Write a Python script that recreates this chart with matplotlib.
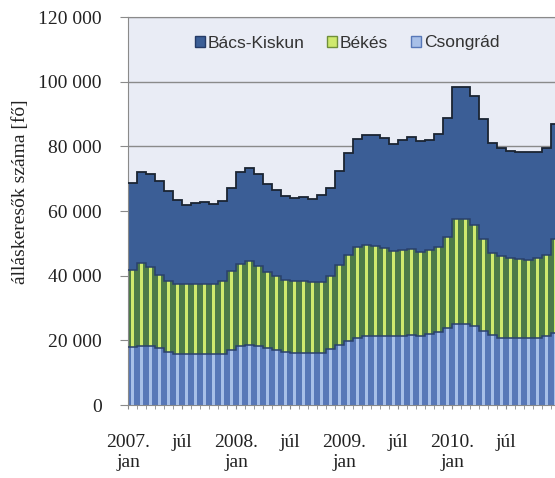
import matplotlib.pyplot as plt
from matplotlib.patches import Patch
from matplotlib.ticker import FuncFormatter
import numpy as np

# monthly data, 2007 jan .. 2010 dec (fő)
csongrad = [18000, 18300, 18300, 17600, 16300, 15900, 15800, 15800, 15900, 15900, 15900, 17000,
            18200, 18600, 18300, 17600, 17000, 16300, 16100, 16000, 16000, 16200, 17200, 18500,
            19800, 20800, 21300, 21400, 21300, 21200, 21300, 21500, 21400, 21900, 22600, 23700,
            24900, 25100, 24300, 23000, 21600, 20800, 20600, 20600, 20700, 20800, 21200, 22300]
bekes = [23900, 25600, 24500, 22700, 22100, 21600, 21600, 21600, 21600, 21600, 22300, 24300,
         25400, 25800, 24600, 23400, 22900, 22500, 22400, 22400, 21900, 21700, 22600, 24900,
         26700, 28100, 28300, 27900, 27300, 26300, 26500, 26800, 25800, 25900, 26300, 28300,
         32700, 32300, 31500, 28400, 25400, 25200, 24900, 24600, 24300, 24700, 25300, 29100]
bacs_kiskun = [26800, 28200, 28500, 28900, 27700, 26000, 24400, 25100, 25200, 24700, 24800, 25700,
               28400, 29000, 28600, 27500, 26700, 25800, 25500, 25800, 25900, 27100, 27400, 28900,
               31500, 33300, 33900, 34100, 34100, 33300, 34300, 34500, 34400, 34300, 34800, 36900,
               40600, 40900, 39800, 36900, 34100, 33600, 33200, 33100, 33200, 32900, 33100, 35600]

label_months = [0, 6, 12, 18, 24, 30, 36, 42]
label_texts = ['2007.\njan', 'júl', '2008.\njan', 'júl', '2009.\njan', 'júl', '2010.\njan', 'júl']

series_names = ['Bács-Kiskun', 'Békés', 'Csongrád']

serif = 'Liberation Serif'

fig = plt.figure(figsize=(5.55, 4.78), dpi=100)
ax = fig.add_axes([128 / 555, 73 / 478, 432 / 555, 388 / 478])
ax.set_facecolor('#E9ECF5')

x = np.arange(len(csongrad))
cs = np.array(csongrad)
bk = np.array(bekes)
bc = np.array(bacs_kiskun)

# darker full-width base + lighter narrow stripe, gives the striped look
ax.bar(x, cs, width=1.0, color='#5878B8', linewidth=0, zorder=2)
ax.bar(x, cs, width=0.42, color='#A8C0E8', linewidth=0, zorder=3)
ax.bar(x, bk, bottom=cs, width=1.0, color='#4C7A48', linewidth=0, zorder=2)
ax.bar(x, bk, bottom=cs, width=0.42, color='#CFE96E', linewidth=0, zorder=3)
ax.bar(x, bc, bottom=cs + bk, width=1.0, color='#3B5E96', linewidth=0, zorder=2)

edges = np.arange(len(x) + 1) - 0.5
ax.stairs(cs, edges, baseline=None, color='#2A406C', lw=1.1, zorder=4)
ax.stairs(cs + bk, edges, baseline=None, color='#2A406C', lw=1.1, zorder=4)
ax.stairs(cs + bk + bc, edges, baseline=None, color='#1A2432', lw=1.3, zorder=4)

ax.set_xlim(-0.5, len(x) - 0.5)
ax.set_ylim(0, 120000)
ax.set_yticks(np.arange(0, 120001, 20000))
ax.yaxis.set_major_formatter(FuncFormatter(lambda v, p: '{:,}'.format(int(v)).replace(',', ' ')))
ax.grid(axis='y', color='#8A8A8A', linewidth=1.0, zorder=1)
ax.set_axisbelow(True)

ax.set_xticks(np.array(label_months) - 0.5)
ax.set_xticklabels(label_texts, multialignment='center')
ax.set_xticks(edges, minor=True)

ax.spines['right'].set_visible(False)
ax.spines['top'].set_color('#8A8A8A')
ax.spines['left'].set_color('#8A8A8A')
ax.spines['bottom'].set_color('#8A8A8A')

ax.tick_params(axis='y', length=6, color='#8A8A8A', pad=13, labelsize=14, labelcolor='#222222')
ax.tick_params(axis='x', which='both', length=3, color='#8A8A8A', pad=18, labelsize=14,
               labelcolor='#222222')
for t in ax.get_xticklabels() + ax.get_yticklabels():
    t.set_family(serif)

fig.text(21 / 555, 1 - 192 / 478, 'álláskeresők száma [fő]', rotation=90, ha='center', va='center',
         fontsize=14, family=serif, color='#222222')

handles = [Patch(facecolor='#3B5E96', edgecolor='#243A66'),
           Patch(facecolor='#CFE96E', edgecolor='#6F8F3A'),
           Patch(facecolor='#A8C0E8', edgecolor='#5878B8')]
leg = ax.legend(handles, series_names, loc='center', bbox_to_anchor=(219 / 432, (405 - 43) / 388),
                ncol=3, frameon=False, handlelength=0.6, handleheight=0.6, handletextpad=0.15,
                columnspacing=1.3, prop={'family': 'Liberation Sans', 'size': 12.5})
for t in leg.get_texts():
    t.set_color('#333333')

fig.savefig('out.png', dpi=100)
